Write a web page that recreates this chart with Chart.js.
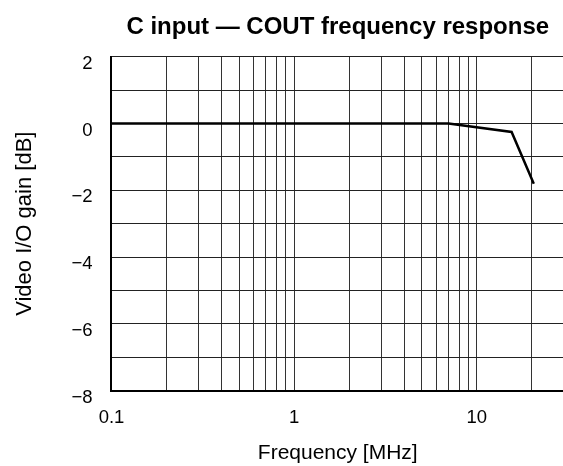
<!DOCTYPE html>
<html>
<head>
<meta charset="utf-8">
<script src="https://cdn.jsdelivr.net/npm/chart.js@4.4.1/dist/chart.umd.min.js"></script>
<style>
  html, body { margin: 0; padding: 0; background: #fff; overflow: hidden; }
  #wrap { width: 580px; height: 466px; }
</style>
</head>
<body>
<div id="wrap"><canvas id="freqChart" width="580" height="466"></canvas></div>
<script>
// C input -> COUT gain vs frequency
const freqMHz = [0.1, 1, 7, 15.5, 20.5];
const gainDb = [0, 0, 0, -0.25, -1.8];
const xTickLabels = [0.1, 1, 10];
const yTickLabels = [2, 0, -2, -4, -6, -8];

const fontFamily = "'Liberation Sans', Arial, sans-serif";

// log grid: 1..9 times each decade
const gridTicks = [];
[0.1, 1, 10].forEach(d => {
    for (let m = 1; m <= 9; m++) {
        const v = +(d * m).toPrecision(3);
        if (v <= 30) gridTicks.push(v);
    }
});
gridTicks.push(30);

const fmtNum = v => (v < 0 ? '\u2212' + Math.abs(v) : String(v));

new Chart(document.getElementById('freqChart'), {
    type: 'line',
    data: {
        datasets: [
            {
                data: freqMHz.map((f, i) => ({ x: f, y: gainDb[i] })),
                borderColor: '#000',
                borderWidth: 2.5,
                pointRadius: 0,
                tension: 0,
                fill: false,
            },
        ],
    },
    options: {
        responsive: false,
        animation: false,
        layout: { padding: { left: 0, right: 0, top: 0, bottom: 0 } },
        plugins: {
            legend: { display: false },
            tooltip: { enabled: false },
            title: {
                display: true,
                text: 'C input \u2014 COUT frequency response',
                color: '#000',
                fullSize: false,
                font: { family: fontFamily, size: 24, weight: 'bold' },
                padding: { top: 13, bottom: 15 },
            },
        },
        scales: {
            x: {
                type: 'logarithmic',
                min: 0.1,
                max: 30,
                afterBuildTicks: axis => {
                    axis.ticks = gridTicks.map(v => ({ value: v }));
                },
                ticks: {
                    autoSkip: false,
                    maxRotation: 0,
                    color: '#000',
                    padding: 16,
                    font: { family: fontFamily, size: 18.5 },
                    callback: v => (xTickLabels.includes(+v.toPrecision(3)) ? String(+v.toPrecision(3)) : ''),
                },
                grid: { color: '#333', lineWidth: 1, drawTicks: false },
                border: { color: '#000', width: 2 },
                title: {
                    display: true,
                    text: 'Frequency [MHz]',
                    color: '#000',
                    font: { family: fontFamily, size: 21 },
                    padding: { top: -4, bottom: 0 },
                },
            },
            y: {
                min: -8,
                max: 2,
                ticks: {
                    stepSize: 1,
                    color: '#000',
                    padding: 19,
                    labelOffset: 7,
                    font: { family: fontFamily, size: 18.5 },
                    callback: v => (yTickLabels.includes(v) ? fmtNum(v) : ''),
                },
                grid: { color: '#222', lineWidth: 1, drawTicks: false },
                border: { color: '#000', width: 2 },
                title: {
                    display: true,
                    text: 'Video I/O gain [dB]',
                    color: '#000',
                    font: { family: fontFamily, size: 22 },
                    padding: { top: 12, bottom: 14 },
                },
            },
        },
    },
});
</script>
</body>
</html>
